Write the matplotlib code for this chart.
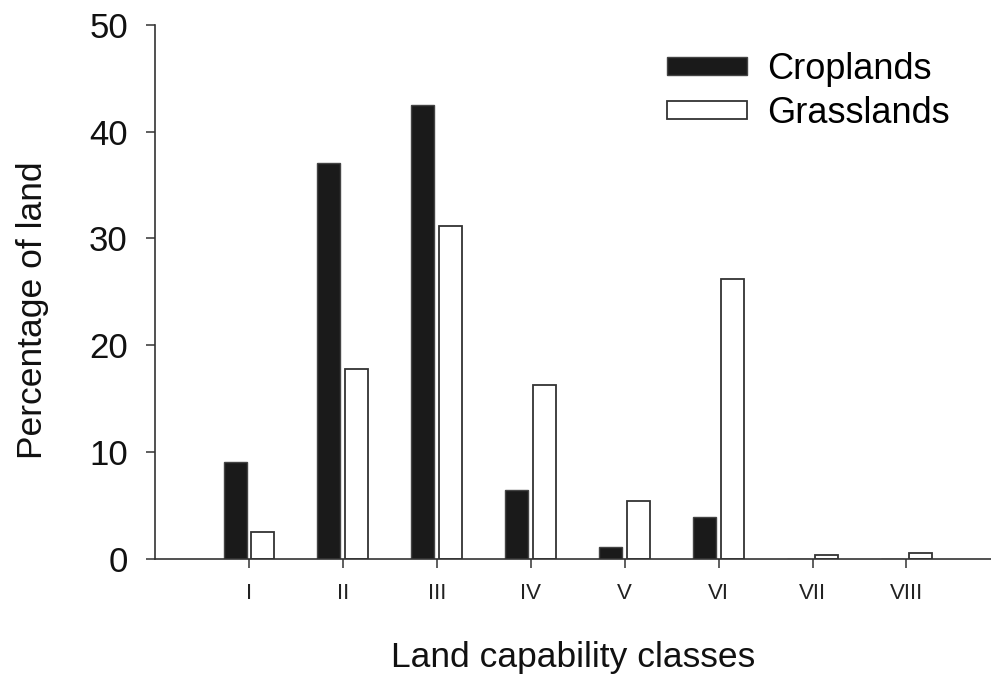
import matplotlib
matplotlib.use('Agg')
import matplotlib.pyplot as plt
import numpy as np

plt.rcParams['font.family'] = ['Liberation Sans', 'DejaVu Sans']

# land capability classes and share of land (%) in each
classes = ['I', 'II', 'III', 'IV', 'V', 'VI', 'VII', 'VIII']
croplands = [9.1, 37.1, 42.5, 6.5, 1.1, 3.9, 0.0, 0.0]
grasslands = [2.5, 17.8, 31.2, 16.3, 5.4, 26.2, 0.35, 0.55]

x = np.arange(1, len(classes) + 1)
w = 0.245
off = 0.148

fig = plt.figure(figsize=(9.91, 6.75), dpi=100)
ax = fig.add_axes([0.1564, 0.1719, 0.8436, 0.7915])

edge = '#333333'
ax.bar(x - off, croplands, w, color='#1a1a1a', edgecolor='#444444', linewidth=1.0,
       label='Croplands', zorder=2)
ax.bar(x + off, grasslands, w, color='white', edgecolor=edge, linewidth=1.3,
       label='Grasslands', zorder=2)

ax.set_xlim(0, 8.9)
ax.set_ylim(0, 50)
ax.set_yticks([0, 10, 20, 30, 40, 50])
ax.set_xticks(x)
ax.set_xticklabels(classes)

for s in ['top', 'right']:
    ax.spines[s].set_visible(False)
for s in ['left', 'bottom']:
    ax.spines[s].set_color(edge)
    ax.spines[s].set_linewidth(1.2)
    ax.spines[s].set_zorder(3)

ax.tick_params(axis='y', direction='out', length=6.5, width=1.1, color=edge,
               labelsize=25, pad=13, labelcolor='#111111')
ax.tick_params(axis='x', direction='out', length=6.5, width=1.1, color=edge,
               labelsize=16, pad=11, labelcolor='#222222')

ax.set_ylabel('Percentage of land', fontsize=25.5, color='#111111')
ax.yaxis.set_label_coords(-0.127, 0.466)
ax.set_xlabel('Land capability classes', fontsize=25.5, color='#111111')
ax.xaxis.set_label_coords(0.5, -0.153)

ax.legend(loc='upper left', bbox_to_anchor=(0.574, 1.01), frameon=False, fontsize=26,
          handlelength=2.2, handleheight=0.38, handletextpad=0.55, labelspacing=0.25)

fig.savefig('out.png', dpi=100)
